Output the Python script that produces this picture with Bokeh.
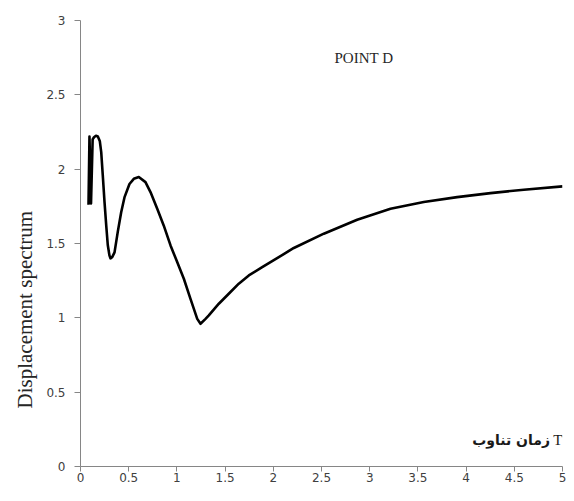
from bokeh.plotting import figure
from bokeh.models import Label, FixedTicker, Title
from bokeh.embed import file_html
from bokeh.resources import INLINE

# ---- data ----
period = [0.083, 0.093, 0.109, 0.126, 0.14, 0.16, 0.18, 0.2, 0.215, 0.231,
          0.249, 0.267, 0.283, 0.3, 0.311, 0.33, 0.353, 0.387, 0.422, 0.456,
          0.508, 0.553, 0.605, 0.674, 0.726, 0.796, 0.864, 0.934, 1.003, 1.072,
          1.141, 1.211, 1.245, 1.297, 1.331, 1.435, 1.538, 1.642, 1.746, 1.885,
          2.057, 2.213, 2.524, 2.87, 3.216, 3.561, 3.907, 4.253, 4.599, 5.0]
displacement = [1.76, 2.22, 1.77, 2.2, 2.215, 2.225, 2.22, 2.19, 2.115, 1.96,
                1.78, 1.62, 1.49, 1.42, 1.40, 1.41, 1.44, 1.58, 1.71, 1.81,
                1.90, 1.935, 1.947, 1.913, 1.846, 1.734, 1.62, 1.487, 1.375, 1.263,
                1.128, 0.993, 0.96, 0.993, 1.016, 1.095, 1.162, 1.23, 1.285, 1.341,
                1.408, 1.47, 1.566, 1.66, 1.734, 1.779, 1.812, 1.839, 1.862, 1.884]

x_ticks = [0, 0.5, 1, 1.5, 2, 2.5, 3, 3.5, 4, 4.5, 5]
x_tick_labels = ["0", "0.5", "1", "1.5", "2", "2.5", "3", "3.5", "4", "4.5", "5"]
y_ticks = [0, 0.5, 1, 1.5, 2, 2.5, 3]
y_tick_labels = ["0", "0.5", "1", "1.5", "2", "2.5", "3"]

title_text = "POINT D"
y_label_text = "Displacement spectrum"
x_label_ar = "زمان تناوب"
x_label_t = "T"

p = figure(width=566, height=485, x_range=(0, 5), y_range=(0, 3),
           output_backend="svg", toolbar_location=None,
           min_border_left=80, min_border_right=4,
           min_border_top=20, min_border_bottom=19)
p.outline_line_color = None
p.grid.visible = False
p.background_fill_color = "white"
p.border_fill_color = "white"

p.line(period, displacement, line_color="black", line_width=2.6,
       line_join="round")

for ax in (p.xaxis, p.yaxis):
    ax.axis_line_color = "#868686"
    ax.major_tick_line_color = "#868686"
    ax.minor_tick_line_color = None
    ax.major_tick_in = 0
    ax.major_label_text_font = "DejaVu Sans"
    ax.major_label_text_font_size = "12px"
    ax.major_label_text_color = "#404040"

p.xaxis.ticker = FixedTicker(ticks=x_ticks)
p.xaxis.major_label_overrides = {t: l for t, l in zip(x_ticks, x_tick_labels)}
p.xaxis.major_tick_out = 5
p.xaxis.major_label_standoff = 1
p.yaxis.ticker = FixedTicker(ticks=y_ticks)
p.yaxis.major_label_overrides = {t: l for t, l in zip(y_ticks, y_tick_labels)}
p.yaxis.major_tick_out = 6
p.yaxis.major_label_standoff = 9

p.add_layout(Title(text=y_label_text, align="left", offset=58,
                   text_font="Liberation Serif", text_font_size="21px",
                   text_font_style="normal", text_color="#262626",
                   standoff=13), "left")

p.add_layout(Label(x=2.635, y=2.746, text=title_text,
                   text_font="Liberation Serif", text_font_size="15px",
                   text_color="#262626", text_baseline="alphabetic"))

p.add_layout(Label(x=4.87, y=0.18, text=x_label_ar,
                   text_font="DejaVu Sans", text_font_style="bold",
                   text_font_size="14px", text_color="#1a1a1a",
                   text_align="right", text_baseline="middle"))
p.add_layout(Label(x=4.998, y=0.18, text=x_label_t,
                   text_font="Liberation Serif", text_font_size="15px",
                   text_color="#1a1a1a", text_align="right",
                   text_baseline="middle"))

open("out.html", "w").write(file_html(p, INLINE))
